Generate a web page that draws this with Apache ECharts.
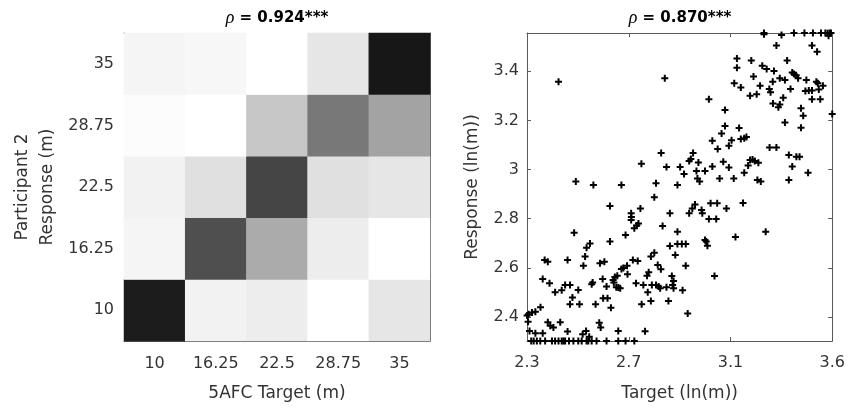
<!DOCTYPE html>
<html>
<head>
<meta charset="utf-8">
<title>Distance judgements</title>
<script src="https://cdn.jsdelivr.net/npm/echarts@6/dist/echarts.min.js"></script>
<style>
  html, body { margin: 0; padding: 0; background: #ffffff; }
  #chart { width: 848px; height: 408px; }
</style>
</head>
<body>
<div id="chart"></div>
<script>
// ---- Left panel: 5AFC confusion matrix (target vs. participant response) ----
const heatCategories = ['10', '16.25', '22.5', '28.75', '35'];
// Response proportion, one row per response level (10 m at the bottom),
// one column per target distance (10 m on the left).
const heatShade = [
  [0.89, 0.05, 0.07, 0.00, 0.10],
  [0.04, 0.69, 0.33, 0.07, 0.00],
  [0.05, 0.12, 0.73, 0.12, 0.10],
  [0.01, 0.00, 0.22, 0.53, 0.36],
  [0.04, 0.03, 0.00, 0.10, 0.91]
];
const heatTitle = '0.924***';

// ---- Right panel: log target vs. log response, one point per trial ----
const targetLn = [
  3.275, 3.275, 3.347, 3.398, 3.441, 3.476, 3.509, 3.527, 3.536, 3.544, 3.540, 3.550,
  3.326, 3.472, 3.493, 3.164, 3.223, 3.370,
  3.164, 3.268, 3.286, 3.316, 3.391, 3.398, 3.407, 3.415, 3.232, 3.153, 3.180, 3.311,
  3.340, 3.361, 3.449, 3.490, 3.496, 3.517, 3.500,
  3.472, 3.459, 3.445, 3.259, 3.297, 3.302, 3.384, 3.218, 3.245, 3.354, 3.472, 3.506,
  3.340, 3.334, 3.312, 3.427, 3.436, 3.555,
  3.173, 3.361, 3.427, 3.142, 3.180, 3.194, 3.203, 3.298, 3.326, 3.377, 3.408, 3.421,
  3.391, 3.228, 3.218, 3.237, 3.252, 3.210, 3.194, 3.151, 3.248, 3.262, 3.377, 3.456,
  2.868, 3.049, 3.115, 3.115, 3.101, 3.063, 3.131, 3.085, 2.853, 2.984, 2.772, 2.875,
  2.931, 2.968, 2.975, 3.006, 2.947, 2.998, 3.033, 3.063, 3.108, 3.131, 3.002, 3.011,
  3.093, 2.832, 2.920,
  2.432, 2.503, 2.575, 2.690,
  2.643, 2.496, 2.707, 2.643, 2.561, 2.547, 2.541, 2.534, 2.375, 2.388, 2.469, 2.602,
  2.620, 2.367, 2.395, 2.418, 2.445, 2.459, 2.479, 2.513, 2.489, 2.479, 2.518, 2.572,
  2.568, 2.613, 2.629, 2.615, 2.633, 2.647, 2.584, 2.656, 2.663, 2.673, 2.659, 2.669,
  2.677, 2.685, 2.690, 2.698, 2.713, 2.715, 2.358, 2.337, 2.323, 2.309, 2.303, 2.307,
  2.313, 2.337, 2.367, 2.388, 2.398, 2.411, 2.439, 2.469, 2.531, 2.545, 2.558, 2.599,
  2.605, 2.677,
  2.320, 2.330, 2.343, 2.357, 2.377, 2.405, 2.418, 2.432, 2.445, 2.452, 2.459, 2.475,
  2.493, 2.513, 2.527, 2.547, 2.554, 2.568, 2.588, 2.629, 2.677, 2.707, 2.743,
  2.825, 2.768, 2.730, 2.731, 2.730, 2.889, 2.992, 2.981, 2.968, 3.019, 3.022, 3.056,
  3.083, 3.049, 3.079, 3.121, 2.743, 2.753, 2.760, 2.859, 2.920, 2.889, 2.920, 2.938,
  2.954, 3.033, 3.038, 3.043, 2.911, 2.737, 2.757, 2.811, 2.825, 2.839, 2.852, 2.954,
  2.802, 2.795, 2.897, 2.904, 2.900, 3.072, 2.750, 2.780, 2.815, 2.832, 2.843, 2.849,
  2.875, 2.904, 2.941, 2.798, 2.773, 2.811, 2.883, 2.962, 2.787,
  3.189, 3.158, 3.282
];
const responseLn = [
  3.555, 3.550, 3.547, 3.555, 3.555, 3.555, 3.555, 3.555, 3.554, 3.555, 3.544, 3.555,
  3.504, 3.504, 3.479, 3.452, 3.443, 3.443,
  3.414, 3.422, 3.409, 3.401, 3.395, 3.389, 3.384, 3.371, 3.378, 3.351, 3.334, 3.357,
  3.371, 3.364, 3.364, 3.357, 3.351, 3.341, 3.326,
  3.321, 3.321, 3.319, 3.341, 3.328, 3.314, 3.328, 3.300, 3.306, 3.292, 3.286, 3.286,
  3.265, 3.253, 3.269, 3.249, 3.219, 3.226,
  3.169, 3.191, 3.170, 3.119, 3.124, 3.127, 3.132, 3.090, 3.090, 3.059, 3.052, 3.052,
  3.012, 3.041, 3.039, 3.035, 3.028, 3.016, 2.987, 2.964, 2.957, 2.951, 2.957, 2.987,
  3.371, 3.286, 3.242, 3.177, 3.147, 3.117, 3.097, 3.084, 3.067, 3.067, 3.024, 3.010,
  3.010, 3.035, 3.043, 3.029, 2.982, 2.994, 2.994, 3.012, 3.032, 3.008, 2.964, 2.951,
  2.964, 2.944, 2.937,
  3.357, 2.951, 2.937, 2.937,
  2.852, 2.743, 2.734, 2.707, 2.699, 2.682, 2.646, 2.609, 2.632, 2.625, 2.632, 2.619,
  2.625, 2.555, 2.537, 2.501, 2.509, 2.530, 2.530, 2.510, 2.480, 2.452, 2.452, 2.541,
  2.533, 2.555, 2.524, 2.476, 2.476, 2.438, 2.452, 2.551, 2.563, 2.568, 2.541, 2.521,
  2.520, 2.517, 2.595, 2.600, 2.609, 2.574, 2.440, 2.422, 2.419, 2.411, 2.406, 2.381,
  2.343, 2.334, 2.334, 2.379, 2.365, 2.357, 2.379, 2.341, 2.330, 2.343, 2.320, 2.377,
  2.357, 2.343,
  2.303, 2.303, 2.303, 2.303, 2.303, 2.303, 2.303, 2.303, 2.303, 2.303, 2.303, 2.303,
  2.303, 2.303, 2.303, 2.303, 2.303, 2.303, 2.303, 2.303, 2.303, 2.303, 2.303,
  2.887, 2.842, 2.822, 2.807, 2.795, 2.822, 2.858, 2.842, 2.822, 2.835, 2.822, 2.863,
  2.863, 2.799, 2.799, 2.842, 2.761, 2.772, 2.781, 2.770, 2.747, 2.689, 2.697, 2.697,
  2.697, 2.713, 2.707, 2.690, 2.652, 2.632, 2.628, 2.646, 2.662, 2.612, 2.594, 2.609,
  2.582, 2.568, 2.567, 2.547, 2.530, 2.567, 2.537, 2.530, 2.530, 2.530, 2.524, 2.517,
  2.521, 2.517, 2.509, 2.501, 2.452, 2.465, 2.465, 2.414, 2.342,
  2.864, 2.726, 2.747
];
const scatterTitle = '0.870***';
const scatterXTicks = [2.3026, 2.7202, 3.1378, 3.5553];
const scatterYTicks = [2.4, 2.6, 2.8, 3.0, 3.2, 3.4];
const lnMin = Math.log(10);
const lnMax = Math.log(35);

// ---- Shared styling ----
const FONT = 'DejaVu Sans, Liberation Sans, Arial, sans-serif';
const TEXT = '#333333';
const FRAME = '#5a5a5a';
const PLUS = 'path://M2.5,0H4.5V2.5H7V4.5H4.5V7H2.5V4.5H0V2.5H2.5Z';

const heatData = [];
heatShade.forEach((row, yi) => row.forEach((v, xi) => heatData.push([xi, yi, v])));
const scatterData = targetLn.map((t, i) => [t, responseLn[i]]);

const frameLine = { show: true, onZero: false, lineStyle: { color: FRAME, width: 1 } };
const innerTick = { show: true, inside: true, length: 4, lineStyle: { color: FRAME, width: 1 } };
const tickText = { color: TEXT, fontFamily: FONT, fontSize: 16 };
const nameText = { color: TEXT, fontFamily: FONT, fontSize: 17 };

function catAxis(grid, position, withLabels, extra) {
  return Object.assign({
    type: 'category', gridIndex: grid, position: position, data: heatCategories,
    axisLine: frameLine,
    axisTick: Object.assign({ alignWithLabel: true }, innerTick),
    axisLabel: Object.assign({ show: withLabels }, tickText),
    splitLine: { show: false }, splitArea: { show: false }
  }, extra || {});
}

function lnAxis(grid, position, ticks, withLabels, extra) {
  return Object.assign({
    type: 'value', gridIndex: grid, position: position, min: lnMin, max: lnMax,
    axisLine: frameLine,
    axisTick: Object.assign({ customValues: ticks }, innerTick),
    axisLabel: Object.assign({ show: withLabels, customValues: ticks }, tickText),
    splitLine: { show: false }
  }, extra || {});
}

const titleRich = {
  r: { fontFamily: 'Liberation Serif, DejaVu Serif, serif', fontStyle: 'italic', fontSize: 18, fill: '#000' },
  b: { fontFamily: FONT, fontWeight: 'bold', fontSize: 15, fill: '#000' }
};

const chart = echarts.init(document.getElementById('chart'), null, { renderer: 'canvas' });
chart.setOption({
  backgroundColor: '#ffffff',
  animation: false,
  grid: [
    { left: 124, top: 33, width: 306, height: 308 },
    { left: 527, top: 33, width: 307, height: 308 }
  ],
  xAxis: [
    catAxis(0, 'bottom', true, {
      axisLabel: Object.assign({ show: true, margin: 15 }, tickText),
      name: '5AFC Target (m)', nameLocation: 'middle', nameGap: 44, nameTextStyle: nameText
    }),
    catAxis(0, 'top', false),
    lnAxis(1, 'bottom', scatterXTicks, true, {
      axisLabel: Object.assign({ show: true, margin: 14, customValues: scatterXTicks,
        formatter: v => v.toFixed(1) }, tickText),
      name: 'Target (ln(m))', nameLocation: 'middle', nameGap: 44, nameTextStyle: nameText
    }),
    lnAxis(1, 'top', scatterXTicks, false)
  ],
  yAxis: [
    catAxis(0, 'left', true, {
      axisLabel: Object.assign({ show: true, margin: 10 }, tickText),
      name: 'Participant 2\nResponse (m)', nameLocation: 'middle', nameRotate: 90, nameGap: 64,
      nameTextStyle: Object.assign({ lineHeight: 25 }, nameText)
    }),
    catAxis(0, 'right', false),
    lnAxis(1, 'left', scatterYTicks, true, {
      axisLabel: Object.assign({ show: true, margin: 8, customValues: scatterYTicks,
        formatter: v => String(+v.toFixed(1)) }, tickText),
      name: 'Response (ln(m))', nameLocation: 'middle', nameRotate: 90, nameGap: 46,
      nameTextStyle: nameText
    }),
    lnAxis(1, 'right', scatterYTicks, false)
  ],
  visualMap: {
    type: 'continuous', show: false, seriesIndex: 0, min: 0, max: 1,
    inRange: { color: ['#ffffff', '#000000'] }
  },
  series: [
    {
      type: 'heatmap', xAxisIndex: 0, yAxisIndex: 0, data: heatData,
      itemStyle: { borderWidth: 0 }, emphasis: { disabled: true }, z: 1
    },
    {
      type: 'scatter', xAxisIndex: 2, yAxisIndex: 2, data: scatterData,
      symbol: PLUS, symbolSize: 7, clip: false,
      itemStyle: { color: '#000000', opacity: 1 }, z: 5
    }
  ],
  graphic: [
    { type: 'text', x: 277, y: 18, style: { text: '{r|ρ}{b| = ' + heatTitle + '}', rich: titleRich, align: 'center', verticalAlign: 'middle' } },
    { type: 'text', x: 680, y: 18, style: { text: '{r|ρ}{b| = ' + scatterTitle + '}', rich: titleRich, align: 'center', verticalAlign: 'middle' } }
  ]
});
</script>
</body>
</html>
